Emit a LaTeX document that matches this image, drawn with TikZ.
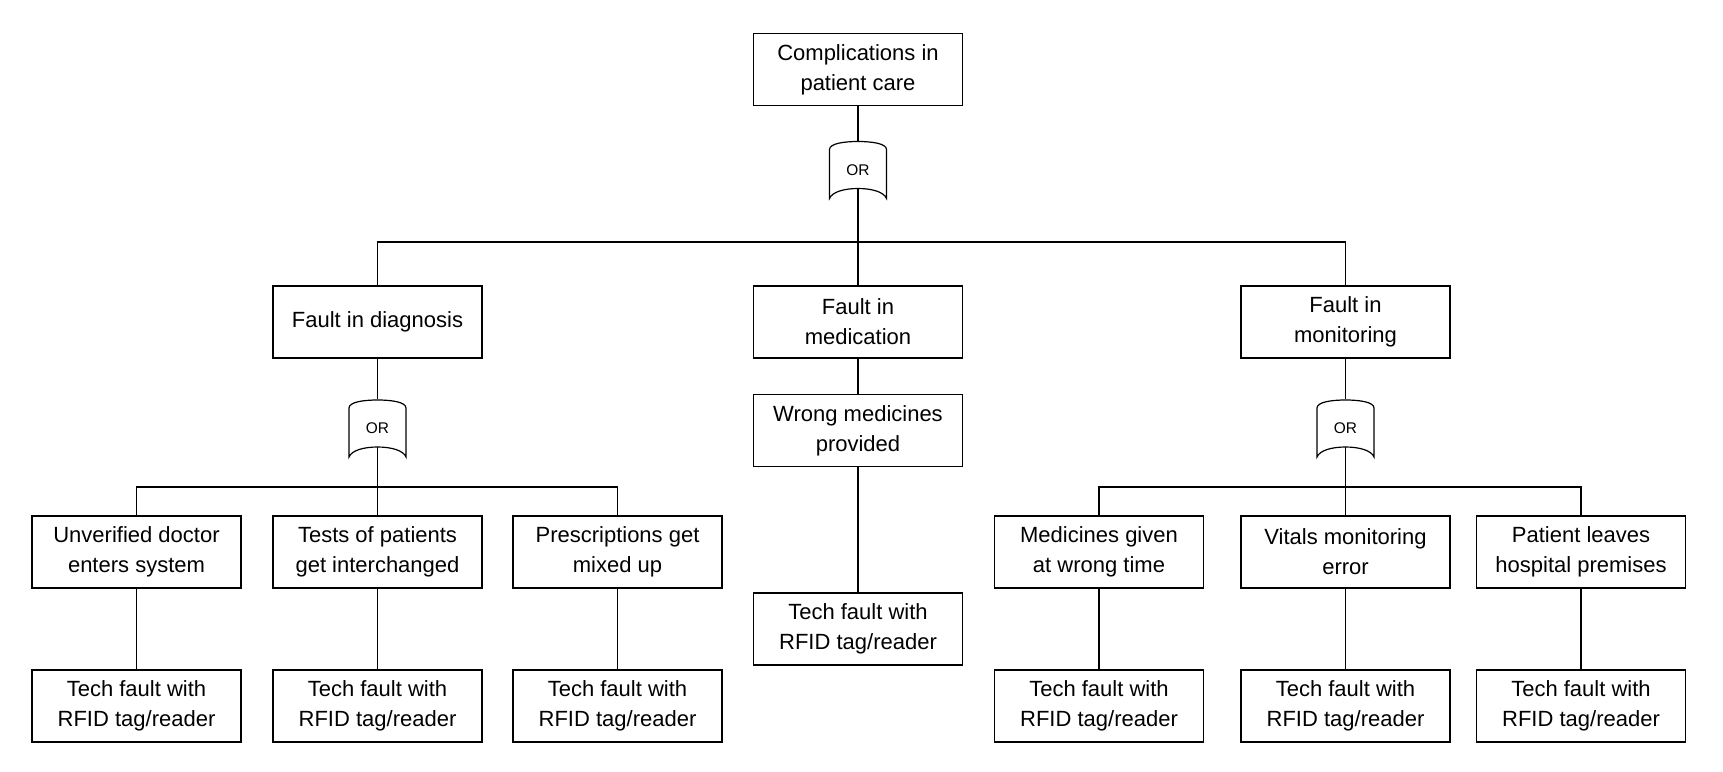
\documentclass[tikz,border=0pt]{standalone}
\usepackage{fontspec}
\setmainfont{Liberation Sans}
\usetikzlibrary{calc}
\tikzset{every picture/.style={line width=0.9pt}}
\tikzset{
  evbox/.style={draw, minimum width=156.75pt, minimum height=54pt, inner sep=0.75pt, align=center, font=\fontsize{16.5}{22.5}\selectfont},
  gatelabel/.style={minimum width=42.75pt, minimum height=42.75pt, inner sep=0pt, font=\fontsize{11.6}{13}\selectfont},
}
% OR gate: name, x, y
\newcommand{\orgate}[3]{%
  \node[gatelabel] (#1) at (#2,#3) {OR};
  \draw[shift={(#2,#3)}] (-28.5,-20.5) .. controls (-28.5,-26.5) and (-14,-28.5) .. (0,-28.5) .. controls (14,-28.5) and (28.5,-26.5) .. (28.5,-20.5) -- (28.5,28.5) .. controls (26,22) and (14,18.5) .. (0,18.5) .. controls (-14,18.5) and (-26,22) .. (-28.5,28.5) -- cycle ;
  \coordinate (#1b) at (#2,#3+18.5);
}

\begin{document}
\begin{tikzpicture}[x=0.75pt,y=0.75pt,yscale=-1,xscale=1]
\useasboundingbox (0,0) rectangle (1723,771);

% Top event
\node[evbox] (top) at (858,69.5) {Complications in\\patient care};
\orgate{g0}{858}{170}
\coordinate (b0) at (858,242);

% Second level
\node[evbox] (diag) at (377.5,322) {Fault in diagnosis};
\node[evbox] (medi) at (858,322) {Fault in\\medication};
\node[evbox] (moni) at (1345.5,322) {Fault in\\monitoring};

% Gates of second level
\orgate{g1}{377.5}{428.5}
\orgate{g3}{1345.5}{428.5}
\coordinate (b1) at (377.5,487);
\coordinate (b3) at (1345.5,487);

% Third level
\node[evbox] (unver) at (136.5,552) {Unverified doctor\\enters system};
\node[evbox] (tests) at (377.5,552) {Tests of patients\\get interchanged};
\node[evbox] (presc) at (617.5,552) {Prescriptions get\\mixed up};
\node[evbox] (wrong) at (858,430.5) {Wrong medicines\\provided};
\node[evbox] (given) at (1099,552) {Medicines given\\at wrong time};
\node[evbox] (vital) at (1345.5,552) {Vitals monitoring\\error};
\node[evbox] (leave) at (1581,552) {Patient leaves\\hospital premises};

% Basic events
\node[evbox] (rfa) at (136.5,706) {Tech fault with\\RFID tag/reader};
\node[evbox] (rfb) at (377.5,706) {Tech fault with\\RFID tag/reader};
\node[evbox] (rfc) at (617.5,706) {Tech fault with\\RFID tag/reader};
\node[evbox] (rfd) at (858,629) {Tech fault with\\RFID tag/reader};
\node[evbox] (rfe) at (1099,706) {Tech fault with\\RFID tag/reader};
\node[evbox] (rff) at (1345.5,706) {Tech fault with\\RFID tag/reader};
\node[evbox] (rfg) at (1581,706) {Tech fault with\\RFID tag/reader};

% Connectors
\draw (top.south) -- (g0.north);
\draw (g0b) -- (b0);
\draw (b0) -| (diag.north);
\draw (b0) -- (medi.north);
\draw (b0) -| (moni.north);

\draw (diag.south) -- (g1.north);
\draw (g1b) -- (b1);
\draw (b1) -| (unver.north);
\draw (b1) -- (tests.north);
\draw (b1) -| (presc.north);

\draw (moni.south) -- (g3.north);
\draw (g3b) -- (b3);
\draw (b3) -| (given.north);
\draw (b3) -- (vital.north);
\draw (b3) -| (leave.north);

\draw (medi.south) -- (wrong.north);
\draw (wrong.south) -- (rfd.north);

\draw (unver.south) -- (rfa.north);
\draw (tests.south) -- (rfb.north);
\draw (presc.south) -- (rfc.north);
\draw (given.south) -- (rfe.north);
\draw (vital.south) -- (rff.north);
\draw (leave.south) -- (rfg.north);

\end{tikzpicture}
\end{document}
